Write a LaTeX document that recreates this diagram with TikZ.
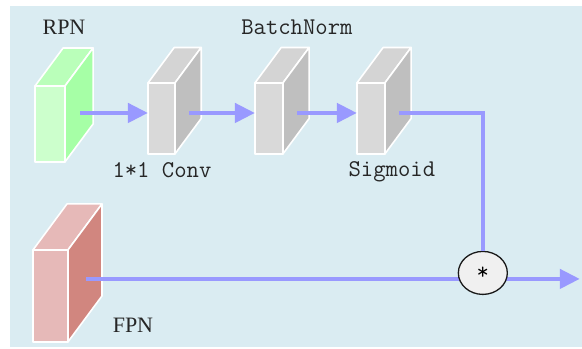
\documentclass[tikz,border=0pt]{standalone}
\usepackage{fontspec}
\newfontfamily\capfont{Liberation Serif}
\usetikzlibrary{arrows.meta,shapes.geometric}

\definecolor{bgblue}{RGB}{218,236,242}
\definecolor{flowblue}{RGB}{153,153,255}
\definecolor{greenF}{RGB}{204,255,204}
\definecolor{greenT}{RGB}{186,255,186}
\definecolor{greenS}{RGB}{166,255,166}
\definecolor{grayF}{RGB}{217,217,217}
\definecolor{grayT}{RGB}{212,212,212}
\definecolor{grayS}{RGB}{191,191,191}
\definecolor{redF}{RGB}{230,185,184}
\definecolor{redT}{RGB}{230,185,184}
\definecolor{redS}{RGB}{209,134,127}

% slab: [colour](front top-left)(width:height:arrow row){name}
\def\slab[#1](#2,#3)(#4:#5:#6)#7{
	\draw[slabedge,fill=#1T] (#2,#3) -- ++({0.37*#5},{-0.5*#5}) -- ++(#4,0) -- (#2+#4,#3) -- cycle;
	\draw[slabedge,fill=#1S] (#2+#4,#3) -- ++({0.37*#5},{-0.5*#5}) -- ++(0,#5) -- (#2+#4,#3+#5) -- cycle;
	\draw[slabedge,fill=#1F] (#2,#3) rectangle ++(#4,#5);
	\coordinate (#7-in) at (#2,#6);
	\coordinate (#7-out) at ({#2+#4+0.2*#5},#6);
}

\tikzset{
	slabedge/.style={draw=white, line width=1.6pt, line join=round},
	flow/.style={draw=flowblue, line width=4.4pt},
	tip/.tip={Triangle[length=20pt,width=19pt]},
	mono/.style={font=\fontsize{24}{24}\ttfamily\selectfont, text=black!85, anchor=base, inner sep=0},
	capname/.style={font=\capfont\fontsize{22}{22}\selectfont, text=black!85, anchor=base, inner sep=0},
	mulnode/.style={ellipse, draw=black!90, line width=1.3pt, fill=black!6, minimum width=49pt, minimum height=43pt, inner sep=0, font=\fontsize{24}{24}\ttfamily\selectfont}
}

\begin{document}
\begin{tikzpicture}[x=1pt,y=-1pt]
	\fill[white] (0,0) rectangle (582,349);
	\fill[bgblue] (10,6) rectangle (582,347);

	\slab[green](35,86)(30:76:113){rpn}
	\slab[gray](148,83)(27:71:113){conv}
	\slab[gray](255,83)(28:71:113){bn}
	\slab[gray](357,83)(28:71:113){sig}
	\slab[red](33,250)(35:92:279){fpn}

	\node[capname] (rpnlbl) at (64,35) {RPN};
	\node[capname] (fpnlbl) at (133,333) {FPN};
	\node[mono] (convlbl) at (162,178) {1*1 Conv};
	\node[mono] (bnlbl) at (297,35) {BatchNorm};
	\node[mono] (siglbl) at (392,177) {Sigmoid};

	\draw[flow,-tip] (rpn-out) -- (conv-in);
	\draw[flow,-tip] (conv-out) -- (bn-in);
	\draw[flow,-tip] (bn-out) -- (sig-in);

	\coordinate (result) at (580,279);
	\draw[flow,-tip] (fpn-out) -- (result);

	\node[mulnode] (mul) at (483,273) {*};
	\draw[flow] (sig-out) -| (mul.north);
\end{tikzpicture}
\end{document}
